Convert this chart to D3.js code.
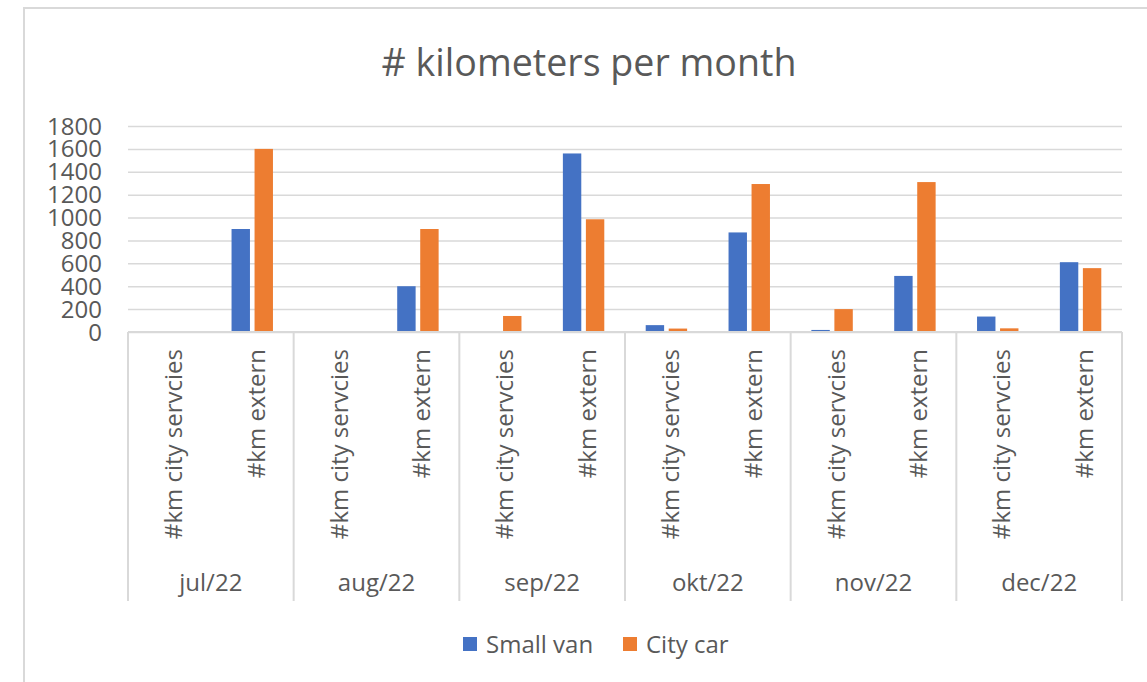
<!DOCTYPE html>
<html>
<head>
<meta charset="utf-8">
<script src="https://cdn.jsdelivr.net/npm/d3@7"></script>
<style>
  body { margin: 0; background: #fff; }
  svg { display: block; font-family: "Open Sans", Lato, sans-serif; }
</style>
</head>
<body>
<svg id="chart" width="1147" height="682"></svg>
<script>
const months = ["jul/22", "aug/22", "sep/22", "okt/22", "nov/22", "dec/22"];
const kinds = ["#km city servcies", "#km extern"];
const seriesNames = ["Small van", "City car"];
const seriesColors = ["#4472C4", "#ED7D31"];
// values per month, in kinds order (city, extern)
const smallVan = [0, 900, 0, 400, 0, 1560, 60, 870, 18, 490, 135, 610];
const cityCar = [0, 1600, 0, 900, 140, 985, 30, 1293, 200, 1310, 32, 558];
const yTicks = [0, 200, 400, 600, 800, 1000, 1200, 1400, 1600, 1800];

const svg = d3.select("#chart");
const textColor = "#595959";
const lineColor = "#d9d9d9";

const plotLeft = 128, plotRight = 1122, plotTop = 126, plotBottom = 332;

// chart frame
svg.append("path")
  .attr("d", "M24,700 V8 H1160")
  .attr("fill", "none")
  .attr("stroke", lineColor)
  .attr("stroke-width", 2);

svg.append("text")
  .attr("x", 589).attr("y", 76)
  .attr("text-anchor", "middle")
  .attr("fill", textColor)
  .attr("font-size", 37.6)
  .text("# kilometers per month");

const y = d3.scaleLinear().domain([0, 1800]).range([plotBottom, plotTop]);
const xMonth = d3.scaleBand().domain(months).range([plotLeft, plotRight]);
const xKind = d3.scaleBand().domain(kinds).range([0, xMonth.bandwidth()]);
const xSeries = d3.scaleBand().domain(seriesNames).range([0, xKind.bandwidth()])
  .paddingInner(0.2).paddingOuter(0.9);

// gridlines
svg.append("g")
  .attr("transform", `translate(${plotLeft},0)`)
  .call(d3.axisLeft(y).tickValues(yTicks).tickSize(-(plotRight - plotLeft)).tickFormat(""))
  .call(g => g.select(".domain").remove())
  .call(g => g.selectAll("line").attr("stroke", lineColor).attr("stroke-width", 1.5));

// y labels
svg.append("g")
  .selectAll("text")
  .data(yTicks)
  .join("text")
  .attr("x", 102)
  .attr("y", d => y(d) + 8.5)
  .attr("text-anchor", "end")
  .attr("fill", textColor)
  .attr("font-size", 24)
  .text(d => d);

const rows = [];
months.forEach((m, i) => {
  kinds.forEach((k, j) => {
    rows.push({ month: m, kind: k, values: [smallVan[i * 2 + j], cityCar[i * 2 + j]] });
  });
});

const bars = svg.append("g");
rows.forEach(r => {
  bars.selectAll(null)
    .data(r.values)
    .join("rect")
    .attr("x", (d, s) => xMonth(r.month) + xKind(r.kind) + xSeries(seriesNames[s]))
    .attr("width", xSeries.bandwidth())
    .attr("y", d => y(d))
    .attr("height", d => y(0) - y(d))
    .attr("fill", (d, s) => seriesColors[s]);
});

// category axis
const axisG = svg.append("g");
axisG.append("line")
  .attr("x1", plotLeft).attr("x2", plotRight)
  .attr("y1", y(0)).attr("y2", y(0))
  .attr("stroke", lineColor).attr("stroke-width", 2);

axisG.selectAll(".sep")
  .data([...months.map(m => xMonth(m)), plotRight])
  .join("line")
  .attr("x1", d => d).attr("x2", d => d)
  .attr("y1", y(0)).attr("y2", 601)
  .attr("stroke", lineColor).attr("stroke-width", 2);

axisG.selectAll(".kind")
  .data(rows)
  .join("text")
  .attr("transform", d => `translate(${xMonth(d.month) + xKind(d.kind) + xKind.bandwidth() / 2 + 12.5},349) rotate(-90)`)
  .attr("text-anchor", "end")
  .attr("fill", textColor)
  .attr("font-size", 24)
  .text(d => d.kind);

axisG.selectAll(".month")
  .data(months)
  .join("text")
  .attr("x", d => xMonth(d) + xMonth.bandwidth() / 2)
  .attr("y", 591)
  .attr("text-anchor", "middle")
  .attr("fill", textColor)
  .attr("font-size", 24)
  .text(d => d);

// legend
const legend = svg.append("g");
const legendX = [463, 623];
seriesNames.forEach((name, i) => {
  legend.append("rect")
    .attr("x", legendX[i]).attr("y", 637)
    .attr("width", 14).attr("height", 14)
    .attr("fill", seriesColors[i]);
  legend.append("text")
    .attr("x", legendX[i] + 23).attr("y", 653)
    .attr("fill", textColor)
    .attr("font-size", 24)
    .text(name);
});
</script>
</body>
</html>
